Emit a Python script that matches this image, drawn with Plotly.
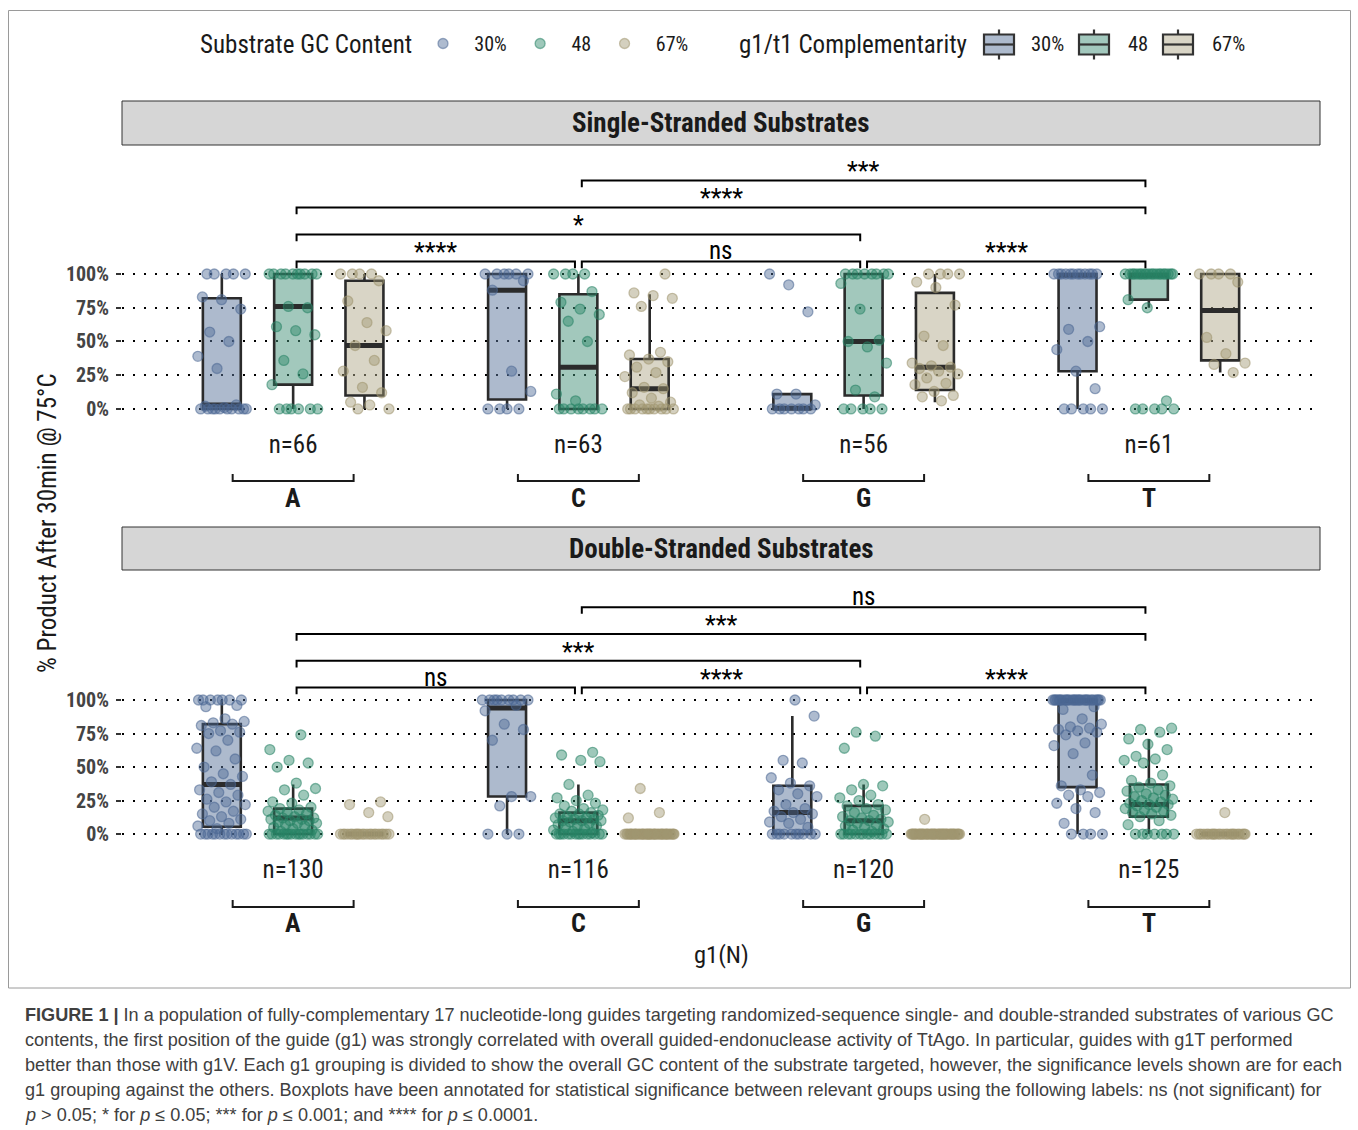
import numpy as np
import plotly.graph_objects as go

letters = ["A", "C", "G", "T"]
gc_levels = ["30%", "48", "67%"]

# ---- Single-stranded substrates: % product after 30 min, per guide ----
ss_A_30 = [0] * 10 + [1, 2, 3, 30, 39, 50, 57, 74, 81, 83, 100, 100, 100, 100, 100]
ss_A_48 = [0] * 6 + [18, 26, 36, 55, 58, 61, 75, 76] + [100] * 10
ss_A_67 = [0, 0, 3, 5, 12, 16, 28, 36, 47, 58, 64, 80, 95, 100, 100, 100, 100]
ss_C_30 = [0, 0, 0, 0, 13, 28, 88, 95, 100, 100, 100, 100, 100, 100]
ss_C_48 = [0] * 8 + [6, 11, 50, 65, 70, 74, 79, 87, 100, 100, 100, 100]
ss_C_67 = [0] * 10 + [2, 3, 5, 8, 12, 15, 16, 24, 27, 31, 35, 37, 40, 42, 76, 82, 84, 86, 100]
ss_G_30 = [0] * 7 + [3, 11, 11, 72, 92, 100]
ss_G_48 = [0] * 5 + [9, 14, 34, 46, 50, 51, 74, 93] + [100] * 8
ss_G_67 = [6, 9, 10, 13, 18, 19, 23, 26, 28, 30, 31, 32, 34, 47, 54, 77, 90, 94, 100, 100, 100, 100]
ss_T_30 = [0] * 5 + [15, 28, 44, 50, 59, 61] + [100] * 12
ss_T_48 = [0] * 5 + [6, 75, 81] + [100] * 20
ss_T_67 = [27, 33, 34, 41, 53, 94, 100, 100, 100, 100]

# ---- Double-stranded substrates ----
ds_A_30 = [0] * 13 + [4, 6, 8, 10, 11, 13, 15, 17, 20, 22, 24, 26, 29, 31, 33, 37, 39, 43, 45, 50,
                      56, 62, 64, 70, 75, 76, 77, 81, 82, 83, 84, 86, 95, 96] + [100] * 7
ds_A_48 = [0] * 16 + [2, 3, 4, 5, 6, 7, 8, 8, 9, 10, 10, 11, 11, 12, 12, 13, 14, 15, 16, 17, 18, 19,
                      20, 23, 24, 29, 33, 34, 38, 50, 53, 55, 63, 74]
ds_A_67 = [0] * 22 + [13, 16, 22, 24]
ds_C_30 = [0, 0, 0, 21, 28, 28, 70, 78, 82, 92, 96] + [100] * 9
ds_C_48 = [0] * 15 + [1, 2, 3, 4, 5, 6, 6, 7, 8, 9, 10, 10, 10, 11, 11, 12, 12, 13, 14, 15, 15, 16,
                      17, 18, 19, 21, 23, 25, 27, 29, 37, 54, 55, 59, 61]
ds_C_67 = [0] * 43 + [12, 16, 34]
ds_G_30 = [0] * 10 + [5, 8, 9, 11, 13, 15, 16, 17, 19, 22, 28, 30, 33, 36, 38, 42, 53, 55, 88, 100]
ds_G_48 = [0] * 13 + [2, 3, 4, 5, 6, 7, 8, 9, 10, 10, 11, 12, 13, 14, 16, 18, 19, 21, 22, 25, 27,
                      29, 33, 36, 37, 64, 73, 76]
ds_G_67 = [0] * 48 + [11]
ds_T_30 = [0] * 4 + [8, 16, 19, 23, 28, 29, 31, 33, 36, 44, 60, 66, 68, 74, 76, 77, 78, 79, 80, 82,
                     86, 93, 95] + [100] * 28
ds_T_48 = [0] * 7 + [7, 10, 13, 14, 15, 16, 17, 18, 19, 20, 21, 22, 22, 23, 24, 25, 26, 27, 28, 29,
                     30, 32, 33, 35, 36, 38, 40, 44, 53, 55, 56, 58, 63, 67, 71, 76, 78, 79]
ds_T_67 = [0] * 24 + [16]

# ---- Box summaries: rows = GC content (30%, 48, 67%), columns = g1 base (A, C, G, T) ----
ss_q1 = [[0, 7, 0, 28], [18, 0, 10, 81], [10, 0, 14, 36]]
ss_med = [[3, 88, 0.5, 99], [76, 31, 50, 99], [47, 15, 31, 73]]
ss_q3 = [[82, 100, 11, 100], [100, 85, 100, 100], [95, 37, 86, 100]]
ss_lo = [[0, 0, 0, 0], [0, 0, 0, 75], [0, 0, 5, 27]]
ss_hi = [[100, 100, 11, 100], [100, 100, 100, 100], [100, 85, 100, 100]]

ds_q1 = [[5.5, 28, 0, 35], [0, 0, 0, 13], [0, 0, 0, 0]]
ds_med = [[37, 94, 16, 99.5], [12, 10, 10, 22], [0, 0, 0, 0]]
ds_q3 = [[82, 100, 36, 100], [19, 16, 21, 37], [0, 0, 0, 0]]
ds_lo = [[0, 0, 0, 0], [0, 0, 0, 0], [0, 0, 0, 0]]
ds_hi = [[100, 100, 88, 100], [37, 37, 37, 71], [0, 0, 0, 0]]

# ---- Pairwise comparisons between g1 groups ----
sig_pairs = [("A", "C"), ("C", "G"), ("G", "T"), ("A", "G"), ("A", "T"), ("C", "T")]
sig_heights = [109.3, 109.3, 109.3, 129.3, 149.3, 169.3]
ss_sig = ["****", "ns", "****", "*", "****", "***"]
ds_sig = ["ns", "****", "****", "***", "***", "ns"]

y_ticks = [0, 25, 50, 75, 100]
y_ticktext = ["0%", "25%", "50%", "75%", "100%"]

# ---- Styling ----
W, H = 1358, 1130
FONT = "Roboto Condensed, Liberation Sans Narrow, DejaVu Sans Condensed, Arial Narrow, Roboto, sans-serif"
CAP_FONT = "Liberation Sans, Arial, Helvetica, sans-serif"
INK = "#1a1a1a"
EDGE = "#2b2b2b"
BOX_FILL = ["rgba(91,117,155,0.5)", "rgba(69,145,121,0.5)", "rgba(179,171,141,0.5)"]
KEY_FILL = ["#adbacd", "#a2c8bd", "#d9d5c6"]
PT_FILL = ["rgba(76,104,148,0.45)", "rgba(40,132,102,0.45)", "rgba(160,150,112,0.45)"]
PT_EDGE = ["rgba(76,104,148,0.55)", "rgba(40,132,102,0.55)", "rgba(160,150,112,0.55)"]
GC_OFF = [-0.25, 0.0, 0.25]
BOX_W = 0.133
JIT = 0.088
TIP = 5.0
SHORT = 0.012
NB = "\u00a0"
THIN = "\u2009"
HAIR = "\u200a"


def px(x):
    return x / W


def py(y):
    return 1 - y / H


panels = [
    dict(xa="x", ya="y", title="Single-Stranded Substrates",
         pts=[[ss_A_30, ss_C_30, ss_G_30, ss_T_30],
              [ss_A_48, ss_C_48, ss_G_48, ss_T_48],
              [ss_A_67, ss_C_67, ss_G_67, ss_T_67]],
         q1=ss_q1, med=ss_med, q3=ss_q3, lo=ss_lo, hi=ss_hi, sig=ss_sig,
         strip=(101, 145), brk=481, let=498),
    dict(xa="x2", ya="y2", title="Double-Stranded Substrates",
         pts=[[ds_A_30, ds_C_30, ds_G_30, ds_T_30],
              [ds_A_48, ds_C_48, ds_G_48, ds_T_48],
              [ds_A_67, ds_C_67, ds_G_67, ds_T_67]],
         q1=ds_q1, med=ds_med, q3=ds_q3, lo=ds_lo, hi=ds_hi, sig=ds_sig,
         strip=(527, 570), brk=907, let=923),
]

fig = go.Figure()
shapes, annotations = [], []

for p_i, P in enumerate(panels):
    xa, ya = P["xa"], P["ya"]
    # boxes
    for g in range(3):
        xpos = [i + 1 + GC_OFF[g] for i in range(4)]
        fig.add_trace(go.Box(
            x=xpos, q1=P["q1"][g], median=P["med"][g], q3=P["q3"][g],
            lowerfence=P["lo"][g], upperfence=P["hi"][g],
            width=BOX_W, fillcolor=BOX_FILL[g], line=dict(color=EDGE, width=2.6),
            whiskerwidth=0, boxpoints=False, name=gc_levels[g], showlegend=False,
            xaxis=xa, yaxis=ya, hoverinfo="skip"))
    # thick median bars
    for g in range(3):
        mx, my = [], []
        for i in range(4):
            c = i + 1 + GC_OFF[g]
            mx += [c - BOX_W / 2, c + BOX_W / 2, None]
            my += [P["med"][g][i], P["med"][g][i], None]
        fig.add_trace(go.Scatter(x=mx, y=my, mode="lines", line=dict(color=EDGE, width=5),
                                 showlegend=False, hoverinfo="skip", xaxis=xa, yaxis=ya))
    # jittered observations
    for g in range(3):
        xs, ys = [], []
        for i in range(4):
            vals = P["pts"][g][i]
            k = np.arange(len(vals))
            jit = ((k * 0.6180339887 + 0.37 + 0.13 * i) % 1.0 - 0.5) * 2 * JIT
            xs += list(i + 1 + GC_OFF[g] + jit)
            ys += list(vals)
        fig.add_trace(go.Scatter(
            x=xs, y=ys, mode="markers", name=NB * 2 + HAIR + gc_levels[g] + NB + THIN,
            marker=dict(size=10, color=PT_FILL[g], line=dict(color=PT_EDGE[g], width=1.3)),
            legendgroup="pt" + str(g), showlegend=(p_i == 0),
            hoverinfo="skip", xaxis=xa, yaxis=ya))

    # strip header
    s0, s1 = P["strip"]
    shapes.append(dict(type="rect", xref="paper", yref="paper", x0=px(122), x1=px(1320),
                       y0=py(s1), y1=py(s0), fillcolor="#d6d6d6", line=dict(color="#333333", width=1),
                       layer="below"))
    annotations.append(dict(text="<b>" + P["title"] + "</b>", x=px(721), y=py((s0 + s1) / 2),
                            xref="paper", yref="paper", xanchor="center", yanchor="middle",
                            showarrow=False, font=dict(family=FONT, size=27, color=INK)))

    # significance brackets
    for (a, b), h, lab in zip(sig_pairs, sig_heights, P["sig"]):
        xa0 = letters.index(a) + 1 + SHORT
        xb0 = letters.index(b) + 1 - SHORT
        shapes.append(dict(type="path", xref=xa, yref=ya,
                           path=f"M{xa0},{h - TIP} L{xa0},{h} L{xb0},{h} L{xb0},{h - TIP}",
                           line=dict(color="black", width=2)))
        annotations.append(dict(text=lab, x=(xa0 + xb0) / 2, y=h, xref=xa, yref=ya,
                                xanchor="center", yanchor="bottom",
                                yshift=-6 if lab == "ns" else -8, showarrow=False,
                                font=dict(family=FONT, size=25, color="black")))

    # nested g1 grouping below the sample-size labels
    for i, l in enumerate(letters):
        c = i + 1
        yb, yt = py(P["brk"]), py(P["brk"] - 7)
        shapes.append(dict(type="path", xref=xa, yref="paper",
                           path=f"M{c - 0.212},{yt} L{c - 0.212},{yb} L{c + 0.212},{yb} L{c + 0.212},{yt}",
                           line=dict(color=INK, width=2)))
        annotations.append(dict(text="<b>" + l + "</b>", x=c, y=py(P["let"]), xref=xa, yref="paper",
                                showarrow=False, xanchor="center", yanchor="middle",
                                font=dict(family=FONT, size=26, color=INK)))

# sample sizes per g1 base
ss_n = [len(ss_A_30) + len(ss_A_48) + len(ss_A_67), len(ss_C_30) + len(ss_C_48) + len(ss_C_67),
        len(ss_G_30) + len(ss_G_48) + len(ss_G_67), len(ss_T_30) + len(ss_T_48) + len(ss_T_67)]
ds_n = [len(ds_A_30) + len(ds_A_48) + len(ds_A_67), len(ds_C_30) + len(ds_C_48) + len(ds_C_67),
        len(ds_G_30) + len(ds_G_48) + len(ds_G_67), len(ds_T_30) + len(ds_T_48) + len(ds_T_67)]

xaxis_common = dict(range=[0.4, 4.6], tickvals=[1, 2, 3, 4], showgrid=False, zeroline=False,
                    showline=False, ticks="", tickfont=dict(family=FONT, size=25, color=INK),
                    ticklabelstandoff=4)
yaxis_common = dict(tickvals=y_ticks, ticktext=y_ticktext, showgrid=True, gridcolor="black",
                    gridwidth=2, griddash="2px,9px", zeroline=False, showline=False,
                    ticks="outside", ticklen=5, tickwidth=2, tickcolor="#333333",
                    tickfont=dict(family=FONT, size=20, color="#444444", weight="bold"),
                    ticklabelstandoff=3)

fig.update_layout(
    xaxis=dict(domain=[px(122), px(1320)], anchor="y", ticktext=[f"n={n}" for n in ss_n], **xaxis_common),
    yaxis=dict(domain=[py(423), py(145)], anchor="x", range=[-10.4, 195.6], **yaxis_common),
    xaxis2=dict(domain=[px(122), px(1320)], anchor="y2", ticktext=[f"n={n}" for n in ds_n], **xaxis_common),
    yaxis2=dict(domain=[py(848), py(570)], anchor="x2", range=[-10.4, 197.0], **yaxis_common),
)

# axis titles
annotations.append(dict(text="% Product After 30min @ 75°C", x=px(47), y=py(523), xref="paper", yref="paper",
                        xanchor="center", yanchor="middle", textangle=-90, showarrow=False,
                        font=dict(family=FONT, size=25, color=INK)))
annotations.append(dict(text="g1(N)", x=px(721), y=py(954), xref="paper", yref="paper",
                        xanchor="center", yanchor="middle", showarrow=False,
                        font=dict(family=FONT, size=24.5, color=INK)))

# legend headings
KEY_Y = 44.5
annotations.append(dict(text="Substrate GC Content", x=px(198), y=py(KEY_Y), xref="paper", yref="paper",
                        xanchor="left", yanchor="middle", showarrow=False,
                        font=dict(family=FONT, size=25, color=INK)))
annotations.append(dict(text="g1/t1 Complementarity", x=px(737), y=py(KEY_Y), xref="paper", yref="paper",
                        xanchor="left", yanchor="middle", showarrow=False,
                        font=dict(family=FONT, size=25, color=INK)))

# key for the box fills (g1/t1 complementarity)
key_cx = [999, 1094, 1178]
key_lab_x = [1029, 1126, 1210]
for g in range(3):
    cx = key_cx[g]
    for ya0, ya1 in ((KEY_Y - 15, KEY_Y - 10), (KEY_Y + 10, KEY_Y + 15)):
        shapes.append(dict(type="line", xref="paper", yref="paper", x0=px(cx), x1=px(cx),
                           y0=py(ya0), y1=py(ya1), line=dict(color="#333333", width=2.2)))
    shapes.append(dict(type="rect", xref="paper", yref="paper", x0=px(cx - 15), x1=px(cx + 15),
                       y0=py(KEY_Y + 10), y1=py(KEY_Y - 10), fillcolor=KEY_FILL[g],
                       line=dict(color="#333333", width=2.2)))
    shapes.append(dict(type="line", xref="paper", yref="paper", x0=px(cx - 15), x1=px(cx + 15),
                       y0=py(KEY_Y), y1=py(KEY_Y), line=dict(color="#333333", width=2.2)))
    annotations.append(dict(text=gc_levels[g], x=px(key_lab_x[g]), y=py(KEY_Y), xref="paper", yref="paper",
                            xanchor="left", yanchor="middle", showarrow=False,
                            font=dict(family=FONT, size=20.5, color=INK)))

# figure frame
shapes.append(dict(type="rect", xref="paper", yref="paper", x0=px(8.5), x1=px(1350.5),
                   y0=py(988), y1=py(10.5), line=dict(color="#9a9a9a", width=1), layer="below"))

caption = [
    "<b>FIGURE 1 |</b> In a population of fully-complementary 17 nucleotide-long guides targeting randomized-sequence single- and double-stranded substrates of various GC",
    "contents, the first position of the guide (g1) was strongly correlated with overall guided-endonuclease activity of TtAgo. In particular, guides with g1T performed",
    "better than those with g1V. Each g1 grouping is divided to show the overall GC content of the substrate targeted, however, the significance levels shown are for each",
    "g1 grouping against the others. Boxplots have been annotated for statistical significance between relevant groups using the following labels: ns (not significant) for",
    "<i>p</i> &gt; 0.05; * for <i>p</i> ≤ 0.05; *** for <i>p</i> ≤ 0.001; and **** for <i>p</i> ≤ 0.0001.",
]
for j, line in enumerate(caption):
    annotations.append(dict(text=line, x=px(22.5), y=py(1015 + 25 * j), xref="paper", yref="paper",
                            xanchor="left", yanchor="middle", showarrow=False, align="left",
                            font=dict(family=CAP_FONT, size=18.1, color="#404040")))

fig.update_layout(
    width=W, height=H, margin=dict(l=0, r=0, t=0, b=0),
    paper_bgcolor="white", plot_bgcolor="white",
    shapes=shapes, annotations=annotations,
    legend=dict(orientation="h", x=px(423), y=py(24), xanchor="left", yanchor="top",
                font=dict(family=FONT, size=20, color=INK), bgcolor="rgba(0,0,0,0)"),
    showlegend=True,
)

fig.write_html("out.html", config={"displayModeBar": False})
